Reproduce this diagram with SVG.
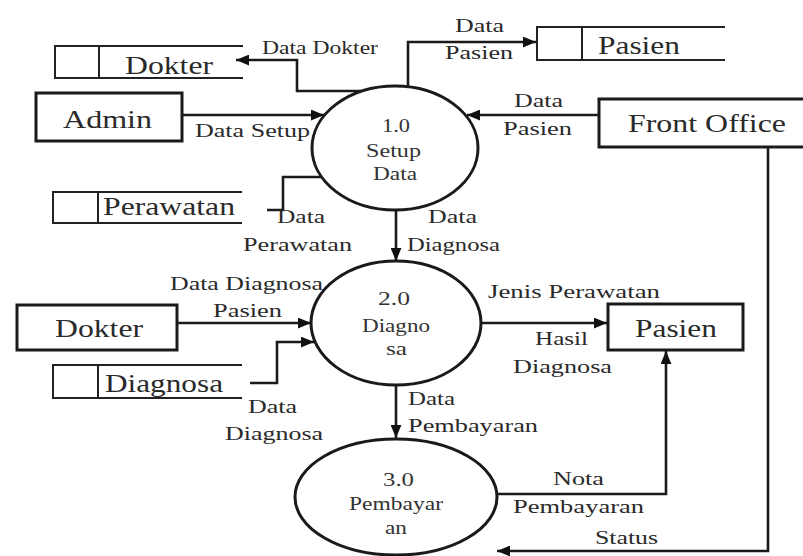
<svg xmlns="http://www.w3.org/2000/svg" width="803" height="556" viewBox="0 0 803 556">
<style>
  text { font-family: "Liberation Serif", "Times New Roman", serif; fill: #2a2a2a; }
  .ent { font-size: 26px; }
  .lbl { font-size: 19px; }
  .prc { font-size: 18px; fill: #333; }
  .box { fill: #fff; stroke: #1a1a1a; stroke-width: 3; }
  .store { fill: none; stroke: #222; stroke-width: 2; }
  .proc { fill: #fff; stroke: #1a1a1a; stroke-width: 3; }
  .flow { fill: none; stroke: #1a1a1a; stroke-width: 2.6; }
</style>
<defs>
  <marker id="arr" viewBox="0 0 12 10" refX="12" refY="5" markerWidth="13" markerHeight="11" markerUnits="userSpaceOnUse" orient="auto">
    <path d="M0,0 L12,5 L0,10 Z" fill="#111"/>
  </marker>
</defs>
<rect width="803" height="556" fill="#fff"/>

<g id="connectors">
  <path class="flow" d="M362 91 H297 V60 H236" marker-end="url(#arr)"/>
  <path class="flow" d="M408 87 V42 H536" marker-end="url(#arr)"/>
  <path class="flow" d="M182 115 H324" marker-end="url(#arr)"/>
  <path class="flow" d="M599 115 H467" marker-end="url(#arr)"/>
  <path class="flow" d="M267 210 H283 V177 H322"/>
  <path class="flow" d="M396 210 V261" marker-end="url(#arr)"/>
  <path class="flow" d="M177 323 H311" marker-end="url(#arr)"/>
  <path class="flow" d="M250 383 H277 V342 H314" marker-end="url(#arr)"/>
  <path class="flow" d="M481 323 H607" marker-end="url(#arr)"/>
  <path class="flow" d="M396 385 V438" marker-end="url(#arr)"/>
  <path class="flow" d="M497 494 H666 V351" marker-end="url(#arr)"/>
  <path class="flow" d="M768 147 V551 H497" marker-end="url(#arr)"/>
</g>

<g id="store-dokter">
  <path class="store" d="M243 46 H55 V78 H243 M99 46 V78"/>
  <text class="ent" x="125" y="74" textLength="88" lengthAdjust="spacingAndGlyphs">Dokter</text>
</g>
<g id="admin">
  <rect class="box" x="36" y="93" width="146" height="48"/>
  <text class="ent" x="63" y="128" textLength="89" lengthAdjust="spacingAndGlyphs">Admin</text>
</g>
<g id="store-pasien">
  <path class="store" d="M725 27 H537 V60 H725 M582 27 V60"/>
  <text class="ent" x="598" y="54" textLength="82" lengthAdjust="spacingAndGlyphs">Pasien</text>
</g>
<g id="front-office">
  <rect class="box" x="599" y="99" width="210" height="48"/>
  <text class="ent" x="628" y="132" textLength="158" lengthAdjust="spacingAndGlyphs">Front Office</text>
</g>
<g id="store-perawatan">
  <path class="store" d="M242 192 H53 V223 H242 M98 192 V223"/>
  <text class="ent" x="103" y="215" textLength="132" lengthAdjust="spacingAndGlyphs">Perawatan</text>
</g>
<g id="dokter">
  <rect class="box" x="17" y="305" width="160" height="45"/>
  <text class="ent" x="55" y="337" textLength="88" lengthAdjust="spacingAndGlyphs">Dokter</text>
</g>
<g id="store-diagnosa">
  <path class="store" d="M242 365 H53 V398 H242 M98 365 V398"/>
  <text class="ent" x="105" y="392" textLength="118" lengthAdjust="spacingAndGlyphs">Diagnosa</text>
</g>
<g id="pasien">
  <rect class="box" x="608" y="304" width="135" height="46"/>
  <text class="ent" x="635" y="337" textLength="82" lengthAdjust="spacingAndGlyphs">Pasien</text>
</g>

<g id="p1">
  <ellipse class="proc" cx="395" cy="148" rx="83" ry="62"/>
  <text class="prc" x="382" y="132" textLength="28" lengthAdjust="spacingAndGlyphs">1.0</text>
  <text class="prc" x="366" y="157" textLength="55" lengthAdjust="spacingAndGlyphs">Setup</text>
  <text class="prc" x="373" y="180" textLength="44" lengthAdjust="spacingAndGlyphs">Data</text>
</g>
<g id="p2">
  <ellipse class="proc" cx="396" cy="323" rx="85" ry="62"/>
  <text class="prc" x="378" y="305" textLength="32" lengthAdjust="spacingAndGlyphs">2.0</text>
  <text class="prc" x="362" y="332" textLength="68" lengthAdjust="spacingAndGlyphs">Diagno</text>
  <text class="prc" x="386" y="355" textLength="21" lengthAdjust="spacingAndGlyphs">sa</text>
</g>
<g id="p3">
  <ellipse class="proc" cx="396" cy="497" rx="101" ry="58"/>
  <text class="prc" x="383" y="486" textLength="31" lengthAdjust="spacingAndGlyphs">3.0</text>
  <text class="prc" x="349" y="510" textLength="94" lengthAdjust="spacingAndGlyphs">Pembayar</text>
  <text class="prc" x="385" y="534" textLength="22" lengthAdjust="spacingAndGlyphs">an</text>
</g>

<g id="labels">
  <text class="lbl" x="262" y="54" textLength="116" lengthAdjust="spacingAndGlyphs">Data Dokter</text>
  <text class="lbl" x="195" y="137" textLength="115" lengthAdjust="spacingAndGlyphs">Data Setup</text>
  <text class="lbl" x="455" y="32" textLength="49" lengthAdjust="spacingAndGlyphs">Data</text>
  <text class="lbl" x="445" y="59" textLength="68" lengthAdjust="spacingAndGlyphs">Pasien</text>
  <text class="lbl" x="514" y="107" textLength="49" lengthAdjust="spacingAndGlyphs">Data</text>
  <text class="lbl" x="503" y="135" textLength="69" lengthAdjust="spacingAndGlyphs">Pasien</text>
  <text class="lbl" x="277" y="223" textLength="48" lengthAdjust="spacingAndGlyphs">Data</text>
  <text class="lbl" x="243" y="251" textLength="109" lengthAdjust="spacingAndGlyphs">Perawatan</text>
  <text class="lbl" x="428" y="223" textLength="49" lengthAdjust="spacingAndGlyphs">Data</text>
  <text class="lbl" x="407" y="251" textLength="93" lengthAdjust="spacingAndGlyphs">Diagnosa</text>
  <text class="lbl" x="170" y="290" textLength="153" lengthAdjust="spacingAndGlyphs">Data Diagnosa</text>
  <text class="lbl" x="213" y="317" textLength="69" lengthAdjust="spacingAndGlyphs">Pasien</text>
  <text class="lbl" x="488" y="298" textLength="172" lengthAdjust="spacingAndGlyphs">Jenis Perawatan</text>
  <text class="lbl" x="535" y="345" textLength="53" lengthAdjust="spacingAndGlyphs">Hasil</text>
  <text class="lbl" x="513" y="373" textLength="99" lengthAdjust="spacingAndGlyphs">Diagnosa</text>
  <text class="lbl" x="248" y="413" textLength="49" lengthAdjust="spacingAndGlyphs">Data</text>
  <text class="lbl" x="225" y="440" textLength="98" lengthAdjust="spacingAndGlyphs">Diagnosa</text>
  <text class="lbl" x="408" y="405" textLength="47" lengthAdjust="spacingAndGlyphs">Data</text>
  <text class="lbl" x="408" y="432" textLength="130" lengthAdjust="spacingAndGlyphs">Pembayaran</text>
  <text class="lbl" x="553" y="485" textLength="51" lengthAdjust="spacingAndGlyphs">Nota</text>
  <text class="lbl" x="513" y="513" textLength="131" lengthAdjust="spacingAndGlyphs">Pembayaran</text>
  <text class="lbl" x="595" y="544" textLength="63" lengthAdjust="spacingAndGlyphs">Status</text>
</g>
</svg>
